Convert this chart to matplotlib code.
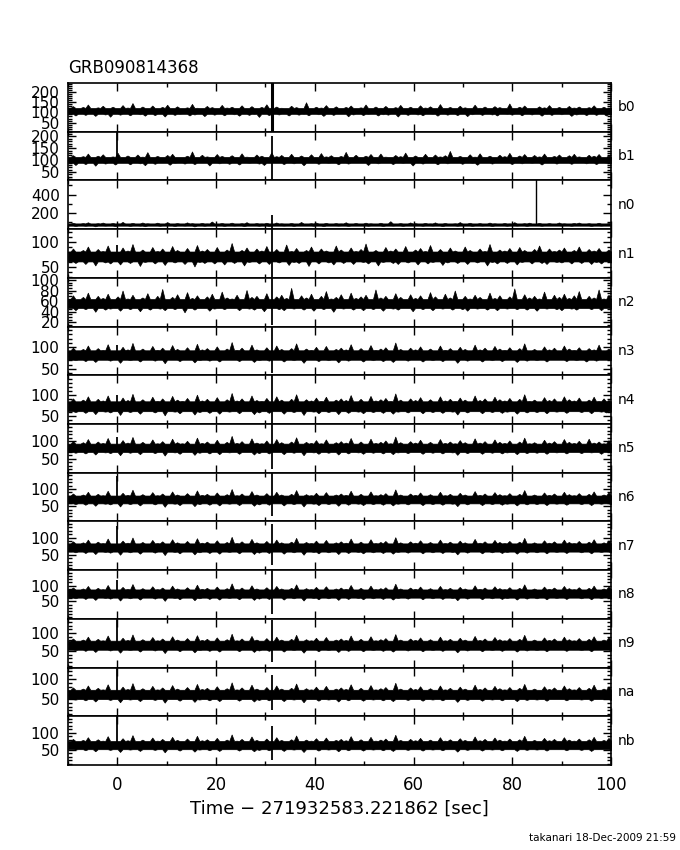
import numpy as np
import matplotlib
matplotlib.use("Agg")
import matplotlib.pyplot as plt
from matplotlib.ticker import MultipleLocator, FixedLocator

plt.rcParams['font.family'] = ['DejaVu Sans']

title = "GRB090814368"
detectors = ["b0", "b1", "n0", "n1", "n2", "n3", "n4", "n5", "n6", "n7", "n8", "n9", "na", "nb"]

# light-curve samples, evenly spaced over the plotted time span (counts per bin)
time_start, time_end = -10, 100

b0 = [120,92,131,85,118,96,127,88,139,94,116,83,125,97,133,90,121,79,128,95,
      117,89,136,93,124,86,146,98,119,91,129,84,122,96,134,87,115,93,127,80,
      138,95,121,88,130,92,118,97,125,85,142,90,123,94,116,82,132,96,126,89,
      119,93,137,86,124,98,128,91,117,84,135,95,122,88,131,92,120,78,127,96,
      140,87,118,93,129,90,123,97,116,85,133,94,126,89,121,92,150,86,119,95,
      128,91,124,83,136,96,117,88,130,93,122,97,127,81,134,90,120,94,125,87,
      139,92,118,96,129,85,123,91,132,89,116,95,126,80,137,93,121,88,128,97,
      119,90,135,86,124,94,130,92,117,84,141,96,122,89,127,93,120,87,133,95,
      125,82,118,91,138,97,123,88,129,94,116,90,131,85,126,96,121,92,144,89,
      119,93,128,86,134,95,122,90,117,97,130,84,125,92,136,88,120,94,127,91,
      118,96,132,83,124,90,129,95,121,87,126,93,135,88,119,96,128,85,123,92]
b1 = [110,88,121,80,107,93,117,84,128,90,112,77,119,94,125,86,109,91,116,82,
      131,89,113,95,120,83,108,92,124,87,115,79,134,93,111,85,118,90,106,96,
      122,81,127,88,114,94,109,86,119,92,137,84,112,89,123,95,116,78,110,91,
      126,87,118,93,107,85,121,96,113,82,129,90,115,88,108,94,124,86,119,80,
      111,92,133,89,117,95,122,84,109,91,127,87,114,93,120,79,112,90,125,96,
      108,85,130,92,116,88,121,94,110,83,118,91,135,86,113,95,123,89,107,92,
      119,80,126,94,111,87,128,90,115,96,109,84,122,93,117,88,132,91,112,78,
      120,95,114,86,127,92,108,89,124,83,116,94,121,87,139,90,113,96,118,85,
      110,92,125,88,115,81,129,94,112,90,119,86,107,93,123,89,117,95,131,84,
      114,91,120,87,126,93,109,88,122,96,116,82,128,90,111,94,118,86,124,92,
      113,89,121,85,127,91,116,94,110,87,123,90,119,84,126,93,112,88,120,95]
n0 = [82,58,90,54,78,63,87,56,95,60,80,51,86,62,92,57,79,64,88,53,
      84,59,99,61,81,55,89,63,77,57,93,52,85,60,80,65,91,56,83,58,
      97,62,79,54,87,61,82,57,94,63,86,50,80,59,89,56,84,64,104,58,
      78,61,88,55,83,62,91,57,79,60,86,53,96,58,81,63,87,56,84,61,
      90,54,78,59,93,62,85,57,80,64,88,55,82,60,98,58,79,62,86,56,
      92,61,83,53,89,59,80,63,87,57,84,60,95,55,81,62,88,58,78,61,
      91,56,85,64,82,59,90,54,79,61,107,57,83,60,87,55,80,63,93,58,
      86,62,79,56,89,60,84,57,94,63,81,53,88,59,82,61,85,56,97,62,
      80,58,90,55,83,63,87,57,79,60,92,54,85,61,81,59,88,56,84,62,
      96,57,80,60,86,55,91,63,82,58,89,56,79,61,87,59,83,62,93,57,
      85,60,81,56,88,62,92,58,80,61,86,55,83,63,90,57,79,60,87,59]
n1 = [80,62,87,58,78,65,84,56,91,61,79,53,86,64,82,59,93,57,81,63,
      77,55,89,62,83,58,96,64,80,52,85,60,79,63,90,57,82,61,87,54,
      78,65,92,59,84,62,81,56,88,63,79,51,94,60,83,58,86,64,80,57,
      90,62,77,55,85,61,98,58,81,64,84,53,89,60,79,62,87,57,83,65,
      92,56,80,61,86,59,78,63,95,54,82,60,88,58,81,64,84,52,91,61,
      79,57,87,63,83,59,80,55,93,62,85,58,78,64,89,56,82,61,86,60,
      97,57,81,63,84,53,79,60,90,62,83,58,87,56,80,64,92,59,78,61,
      85,55,88,63,82,57,94,60,79,62,86,54,81,59,89,64,83,58,80,61,
      91,56,84,62,78,59,87,63,82,53,96,60,80,57,85,64,83,58,88,61,
      79,55,90,60,84,63,81,57,86,62,93,58,80,56,87,64,82,60,85,59,
      89,61,78,57,84,62,91,58,81,64,86,56,83,60,88,57,80,63,85,59]
n2 = [64,47,71,43,62,50,68,45,76,48,63,40,70,49,66,44,74,46,61,51,
      69,42,80,47,65,45,72,50,63,41,67,48,75,44,62,49,70,46,83,43,
      64,50,68,45,73,47,61,39,77,49,66,44,71,48,63,51,69,42,74,46,
      62,49,78,45,67,47,65,50,72,43,60,48,81,46,68,44,70,49,64,41,
      75,47,63,50,69,45,72,43,66,48,85,46,62,49,71,44,67,51,74,42,
      63,47,70,45,79,49,65,40,68,48,73,46,61,50,76,44,66,47,69,43,
      72,49,64,45,82,48,67,42,70,50,63,46,75,44,68,49,62,47,73,41,
      66,50,71,45,64,48,77,43,69,49,62,46,74,47,67,44,80,50,63,45,
      70,42,65,48,72,46,68,49,61,44,76,47,66,43,71,50,64,46,69,48,
      84,45,63,49,73,44,67,47,70,42,65,50,78,46,62,48,72,45,68,43,
      74,49,66,46,71,44,79,48,63,50,70,45,67,47,82,43,65,49,72,46]
n3 = [92,74,99,70,90,77,96,68,104,73,91,66,98,76,94,71,107,69,93,75,
      89,64,101,73,95,70,110,76,92,67,97,72,90,75,103,69,94,74,99,63,
      91,77,105,71,96,68,93,75,100,72,89,65,108,70,95,76,98,69,92,73,
      102,67,90,74,97,71,112,75,94,68,99,73,91,77,106,66,95,70,93,74,
      100,69,89,76,104,72,96,67,92,75,98,70,109,73,90,64,97,76,94,71,
      101,68,93,74,103,70,91,77,96,65,99,72,95,69,107,75,92,71,98,67,
      90,74,105,70,94,76,97,68,100,73,93,66,111,71,96,75,91,69,99,74,
      95,72,102,67,92,76,97,70,89,73,104,68,94,75,98,71,93,64,101,74,
      96,69,90,76,106,72,95,67,99,73,92,70,103,75,97,68,94,71,100,74,
      91,66,98,72,109,69,93,76,96,70,90,73,102,67,95,75,99,71,92,74,
      104,68,97,72,94,70,100,75,92,67,98,73,95,69,106,74,91,71,97,76]
n4 = [85,63,92,59,82,67,89,57,97,62,84,54,91,65,87,60,99,58,83,66,
      80,52,94,63,88,59,103,66,85,55,90,61,82,64,96,58,86,62,92,51,
      84,67,98,60,89,56,86,64,93,61,81,53,101,59,87,66,91,57,85,62,
      95,55,83,63,90,60,105,65,87,56,92,62,84,67,99,54,88,58,86,63,
      93,57,81,66,97,61,89,55,85,64,91,59,102,62,83,52,90,66,87,60,
      94,56,86,63,96,59,84,67,89,54,92,61,88,57,100,65,85,60,91,56,
      82,63,98,59,87,66,90,57,93,62,86,55,104,60,89,64,84,58,92,63,
      88,61,95,56,85,66,90,59,82,62,97,57,87,64,91,60,86,53,94,63,
      89,58,83,65,99,61,88,56,92,62,85,59,96,64,90,57,87,60,93,63,
      84,55,91,61,102,58,86,65,89,59,83,62,95,56,88,64,92,60,85,63,
      97,57,90,61,87,64,94,59,83,62,89,56,96,63,86,60,92,58,88,65]
n5 = [93,71,100,67,90,75,97,65,106,70,92,62,99,73,95,68,109,66,91,74,
      88,60,103,71,96,67,112,74,93,63,98,69,90,72,105,66,94,70,100,59,
      92,75,107,68,97,64,94,72,101,69,89,61,110,67,95,74,99,65,93,70,
      104,63,91,71,98,68,115,73,95,64,100,70,92,75,108,62,96,66,94,71,
      102,65,89,74,106,69,97,63,93,72,99,67,111,70,91,60,98,74,95,68,
      103,64,94,71,105,67,92,75,97,62,100,69,96,65,109,73,93,68,99,64,
      90,71,107,67,95,74,98,65,102,70,94,63,113,68,97,72,92,66,100,71,
      96,69,104,64,93,74,98,67,89,70,106,65,95,72,99,68,94,61,103,71,
      97,66,91,73,108,69,96,64,100,70,93,67,105,72,98,65,95,68,102,71,
      92,63,99,69,110,66,94,73,97,67,91,70,104,64,96,72,100,68,93,71,
      106,65,98,69,95,72,101,66,93,70,107,68,96,73,99,64,94,71,103,69]
n6 = [80,60,87,56,78,63,84,54,92,59,79,51,86,62,82,57,95,55,81,61,
      77,49,89,60,83,56,98,63,80,52,85,58,78,61,91,55,82,59,87,48,
      79,64,93,57,84,53,81,61,88,58,76,50,96,56,83,63,86,54,80,59,
      90,52,78,60,85,57,100,62,82,53,87,59,79,64,94,51,84,55,81,60,
      88,54,77,63,92,58,84,52,80,61,86,56,97,59,78,49,85,63,82,57,
      89,53,81,60,91,56,79,64,84,51,87,58,83,54,95,62,80,57,86,53,
      77,60,93,56,82,63,85,54,88,59,81,52,99,57,84,61,79,55,87,60,
      83,58,90,53,80,63,85,56,77,59,92,54,82,61,86,57,81,50,89,60,
      84,55,78,62,94,58,83,53,87,59,80,56,91,61,85,54,82,57,88,60,
      79,52,86,58,97,55,81,62,84,56,78,59,90,53,83,61,87,57,80,60,
      92,54,85,58,82,61,88,56,79,59,86,53,93,60,81,57,84,62,90,55]
n7 = [82,61,89,57,80,64,86,55,94,60,81,52,88,63,84,58,97,56,83,62,
      79,50,91,61,85,57,100,64,82,53,87,59,80,62,93,56,84,60,89,49,
      81,65,95,58,86,54,83,62,90,59,78,51,98,57,85,64,88,55,82,60,
      92,53,80,61,87,58,102,63,84,54,89,60,81,65,96,52,86,56,83,61,
      90,55,79,64,94,59,86,53,82,62,88,57,99,60,80,50,87,64,84,58,
      91,54,83,61,93,57,81,65,86,52,89,59,85,55,97,63,82,58,88,54,
      79,61,95,57,84,64,87,55,90,60,83,53,101,58,86,62,81,56,89,61,
      85,59,92,54,82,64,87,57,79,60,94,55,84,62,88,58,83,51,91,61,
      86,56,80,63,96,59,85,54,89,60,82,57,93,62,87,55,84,58,90,61,
      81,53,88,59,99,56,83,63,86,57,80,60,92,54,85,62,89,58,82,61,
      94,55,87,59,84,62,90,57,81,60,88,54,95,61,83,58,86,63,92,56]
n8 = [87,64,94,60,85,67,91,58,99,63,86,55,93,66,89,61,102,59,88,65,
      84,53,96,64,90,60,105,67,87,56,92,62,85,65,98,59,89,63,94,52,
      86,68,100,61,91,57,88,65,95,62,83,54,103,60,90,67,93,58,87,63,
      97,56,85,64,92,61,107,66,89,57,94,63,86,68,101,55,91,59,88,64,
      95,58,84,67,99,62,91,56,87,65,93,60,104,63,85,53,92,67,89,61,
      96,57,88,64,98,60,86,68,91,55,94,62,90,58,102,66,87,61,93,57,
      84,64,100,60,89,67,92,58,95,63,88,56,106,61,91,65,86,59,94,64,
      90,62,97,57,87,67,92,60,84,63,99,58,89,65,93,61,88,54,96,64,
      91,59,85,66,101,62,90,57,94,63,87,60,98,65,92,58,89,61,95,64,
      86,56,93,62,104,59,88,66,91,60,85,63,97,57,90,65,94,61,87,64,
      99,58,92,62,89,65,95,60,86,63,93,57,100,64,88,61,91,66,97,59]
n9 = [78,57,85,53,76,60,82,51,90,56,77,48,84,59,80,54,93,52,79,58,
      75,46,87,57,81,53,96,60,78,49,83,55,76,58,89,52,80,56,85,45,
      77,61,91,54,82,50,79,58,86,55,74,47,94,53,81,60,84,51,78,56,
      88,49,76,57,83,54,98,59,80,50,85,56,77,61,92,48,82,52,79,57,
      86,51,75,60,90,55,82,49,78,58,84,53,95,56,76,46,83,60,80,54,
      87,50,79,57,89,53,77,61,82,48,85,55,81,51,93,59,78,54,84,50,
      75,57,91,53,80,60,83,51,86,56,79,49,97,54,82,58,77,52,85,57,
      81,55,88,50,78,60,83,53,75,56,90,51,80,58,84,54,79,47,87,57,
      82,52,76,59,92,55,81,50,85,56,78,53,89,58,83,51,80,54,86,57,
      77,49,84,55,95,52,79,59,82,53,76,56,88,50,81,58,85,54,78,57,
      90,51,83,55,80,58,86,53,77,56,84,50,91,57,79,54,82,59,88,52]
na = [72,52,79,48,70,55,76,46,84,51,71,43,78,54,74,49,87,47,73,53,
      69,41,81,52,75,48,90,55,72,44,77,50,70,53,83,47,74,51,79,40,
      71,56,85,49,76,45,73,53,80,50,68,42,88,48,75,55,78,46,72,51,
      82,44,70,52,77,49,92,54,74,45,79,51,71,56,86,43,76,47,73,52,
      80,46,69,55,84,50,76,44,72,53,78,48,89,51,70,41,77,55,74,49,
      81,45,73,52,83,48,71,56,76,43,79,50,75,46,87,54,72,49,78,45,
      69,52,85,48,74,55,77,46,80,51,73,44,91,49,76,53,71,47,79,52,
      75,50,82,45,72,55,77,48,69,51,84,46,74,53,78,49,73,42,81,52,
      76,47,70,54,86,50,75,45,79,51,72,48,83,53,77,46,74,49,80,52,
      71,44,78,50,88,47,73,54,76,48,70,51,82,45,75,53,79,49,72,52,
      84,46,77,50,74,53,80,48,71,51,78,45,86,52,73,49,76,54,82,47]
nb = [75,55,82,51,73,58,79,49,87,54,74,46,81,57,77,52,90,50,76,56,
      72,44,84,55,78,51,93,58,75,47,80,53,73,56,86,50,77,54,82,43,
      74,59,88,52,79,48,76,56,83,53,71,45,91,51,78,58,81,49,75,54,
      85,47,73,55,80,52,95,57,77,48,82,54,74,59,89,46,79,50,76,55,
      83,49,72,58,87,53,79,47,75,56,81,51,92,54,73,44,80,58,77,52,
      84,48,76,55,86,51,74,59,79,46,82,53,78,49,90,57,75,52,81,48,
      72,55,88,51,77,58,80,49,83,54,76,47,94,52,79,56,74,50,82,55,
      78,53,85,48,75,58,80,51,72,54,87,49,77,56,81,52,76,45,84,55,
      79,50,73,57,89,53,78,48,82,54,75,51,86,56,80,49,77,52,83,55,
      74,47,81,53,91,50,76,57,79,51,73,54,85,48,78,56,82,52,75,55,
      87,49,80,53,77,56,83,50,74,54,81,47,88,55,76,52,79,57,85,50]
series = [b0, b1, n0, n1, n2, n3, n4, n5, n6, n7, n8, n9, na, nb]

# dense core of each light curve (range almost always covered by the many bins)
core_low  = [93, 89, 58, 61, 47, 71, 61, 69, 58, 59, 62, 54, 49, 52]
core_high = [122, 114, 83, 81, 64, 93, 85, 93, 81, 83, 88, 79, 73, 76]

# y-axis limits per detector panel
y_low  = [5, 15, 20, 28, 12, 35, 30, 10, 5, 5, -5, 5, 5, 6]
y_high = [245, 220, 555, 126, 104, 148, 148, 149, 148, 147, 149, 139, 130, 148]
# labelled y ticks per panel
y_major = [[50,100,150,200],[50,100,150,200],[200,400],[50,100],[20,40,60,80,100],
           [50,100],[50,100],[50,100],[50,100],[50,100],[50,100],[50,100],[50,100],[50,100]]
y_minor_step = [10, 10, 100, 10, 5, 10, 10, 10, 10, 10, 10, 10, 10, 10]

# typical count level of each detector (base of the spikes)
level = [108, 100, 70, 70, 55, 82, 75, 82, 70, 72, 76, 68, 62, 65]

# short spikes: at t=31.3 in every detector, at trigger time t=0 in some
spike1_t = 31.3
spike1_low  = [-50, -50, -50, 30, 15, 40, 30, 20, 20, 20, 10, 20, 20, 20]
spike1_high = [300, 200, 175, 126, 104, 150, 150, 150, 150, 140, 150, 135, 112, 120]
spike0_t = 0.0
spike0_high = [None, 230, None, 95, None, 105, 100, 112, 138, 135, 118, 140, 130, 150]
# single isolated bin in n0
n0_extra_t = 84.8
n0_extra_v = 600

x_min, x_max = -10, 100
x_ticks = [0, 20, 40, 60, 80, 100]

fig = plt.figure(figsize=(6.8, 8.5), dpi=100)
W, H = 680, 850
left_px, right_px, top_px, bot_px = 68, 611, 83, 765
n = len(detectors)
ph = (bot_px - top_px) / n

for i, det in enumerate(detectors):
    top_i = top_px + i * ph
    ax = fig.add_axes([left_px / W, 1 - (top_i + ph) / H, (right_px - left_px) / W, ph / H])
    vals = np.asarray(series[i], dtype=float)
    t = np.linspace(time_start, time_end, len(vals))
    # dense light curve: solid core with the bin excursions as spikes on both edges
    upper = np.maximum(vals, core_high[i])
    lower = np.minimum(vals, core_low[i])
    ax.fill_between(t, lower, upper, facecolor='black', edgecolor='black', lw=0.5)
    ax.vlines(spike1_t, spike1_low[i], spike1_high[i], color='black',
              lw=2.2 if i == 0 else 1.3)
    if spike0_high[i] is not None:
        ax.vlines(spike0_t, level[i], spike0_high[i], color='black', lw=1.3)
    if det == "n0":
        ax.vlines(n0_extra_t, level[i], n0_extra_v, color='black', lw=1.0)
    ax.set_xlim(x_min, x_max)
    ax.set_ylim(y_low[i], y_high[i])
    ax.xaxis.set_major_locator(FixedLocator(x_ticks))
    ax.xaxis.set_minor_locator(MultipleLocator(10))
    ax.yaxis.set_major_locator(FixedLocator(y_major[i]))
    ax.yaxis.set_minor_locator(MultipleLocator(y_minor_step[i]))
    ax.tick_params(which='both', direction='in', top=True, right=True,
                   width=1.0, color='black')
    ax.tick_params(which='major', length=6)
    ax.tick_params(which='minor', length=3)
    ax.tick_params(axis='y', labelsize=11, pad=6)
    ax.tick_params(axis='x', labelsize=12, pad=8)
    for s in ax.spines.values():
        s.set_linewidth(1.2)
    if i < n - 1:
        ax.set_xticklabels([])
    ax.text(1.012, 0.5, det, transform=ax.transAxes, ha='left', va='center', fontsize=10)
    if i == 0:
        ax.text(0.0, 1.12, title, transform=ax.transAxes, ha='left', va='bottom', fontsize=12)
    if i == n - 1:
        ax.set_xlabel("Time \u2212 271932583.221862 [sec]", fontsize=13, labelpad=4)

fig.text(676 / W, 1 - 838 / H, "takanari 18-Dec-2009 21:59", ha='right', va='center', fontsize=7.5)

fig.savefig("out.png", dpi=100)
